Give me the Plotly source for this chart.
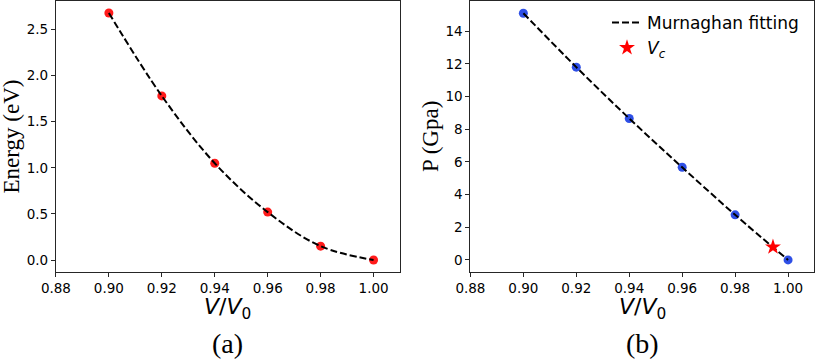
import plotly.graph_objects as go

# 数据（从图上读出来的）
v_ratio = [0.90, 0.92, 0.94, 0.96, 0.98, 1.00]
energy = [2.68, 1.78, 1.05, 0.52, 0.15, 0.00]
pressure = [15.1, 11.8, 8.66, 5.67, 2.76, 0.00]
vc_x = [0.9943]
vc_p = [0.79]

x_ticks = [0.88, 0.90, 0.92, 0.94, 0.96, 0.98, 1.00]

W, H = 817, 361
tick_font = dict(family="DejaVu Sans", size=13.5, color="black")
serif = "Liberation Serif"

fig = go.Figure()

###左图 能量
fig.add_trace(go.Scatter(x=v_ratio, y=energy, mode="markers",
                         marker=dict(color="#ff1a1a", size=9),
                         showlegend=False, xaxis="x", yaxis="y"))
fig.add_trace(go.Scatter(x=v_ratio, y=energy, mode="lines", line_shape="spline",
                         line=dict(color="black", width=2, dash="7px,3px"),
                         showlegend=False, xaxis="x", yaxis="y"))

###右图 压强
fig.add_trace(go.Scatter(x=v_ratio, y=pressure, mode="markers",
                         marker=dict(color="#2e4fe6", size=9),
                         showlegend=False, xaxis="x2", yaxis="y2"))
fig.add_trace(go.Scatter(x=v_ratio, y=pressure, mode="lines", line_shape="spline",
                         line=dict(color="black", width=2, dash="7px,3px"),
                         name="Murnaghan fitting", xaxis="x2", yaxis="y2"))
fig.add_trace(go.Scatter(x=vc_x, y=vc_p, mode="markers",
                         marker=dict(color="red", size=12, symbol="star"),
                         name="<i>V</i><sub><i>c</i></sub>", xaxis="x2", yaxis="y2"))

axis_style = dict(showline=True, mirror=True, linecolor="#262626", linewidth=1.2,
                  ticks="outside", ticklen=4, tickcolor="#262626", automargin=False,
                  showgrid=False, zeroline=False, tickfont=tick_font)

fig.update_layout(
    width=W, height=H,
    margin=dict(l=0, r=1, t=1, b=89),
    plot_bgcolor="white", paper_bgcolor="white",
    xaxis=dict(domain=[56 / W, 400 / W], range=[0.88, 1.0098],
               tickvals=x_ticks, tickformat=".2f", anchor="y", **axis_style),
    yaxis=dict(domain=[0, 1], range=[-0.13, 2.81], dtick=0.5, tickformat=".1f",
               anchor="x", **axis_style),
    xaxis2=dict(domain=[471 / W, 815 / W], range=[0.88, 1.0098],
                tickvals=x_ticks, tickformat=".2f", anchor="y2", **axis_style),
    yaxis2=dict(domain=[0, 1], range=[-0.74, 15.85], dtick=2,
                anchor="x2", **axis_style),
    legend=dict(x=607 / 816, y=0.985, xanchor="left", yanchor="top",
                bgcolor="rgba(255,255,255,0)",
                font=dict(family="DejaVu Sans", size=17, color="black"),
                tracegroupgap=0),
)

# 轴标题和 (a)(b)
xlabel = "<i>V</i>/<i>V</i><sub>0</sub>"
for xr, yr, ytxt, lab in [("x", "y", "Energy (eV)", "(a)"), ("x2", "y2", "P (Gpa)", "(b)")]:
    fig.add_annotation(text=xlabel, xref=xr + " domain", yref=yr + " domain",
                       x=0.5, y=-0.133, showarrow=False, yanchor="middle",
                       font=dict(family="DejaVu Sans", size=22, color="black"))
    fig.add_annotation(text=lab, xref=xr + " domain", yref=yr + " domain",
                       x=0.5, y=-0.262, showarrow=False, yanchor="middle",
                       font=dict(family=serif, size=28, color="black"))
    fig.add_annotation(text=ytxt, xref="paper", yref=yr + " domain",
                       x=(12 if xr == "x" else 431) / W, y=0.5, textangle=-90,
                       showarrow=False, xanchor="center", yanchor="middle",
                       borderpad=0, font=dict(family=serif, size=23, color="black"))

# 页面自带 8px 边距，去掉
fig.write_html("out.html", config={"displayModeBar": False},
               post_script="document.body.style.margin='0';")
